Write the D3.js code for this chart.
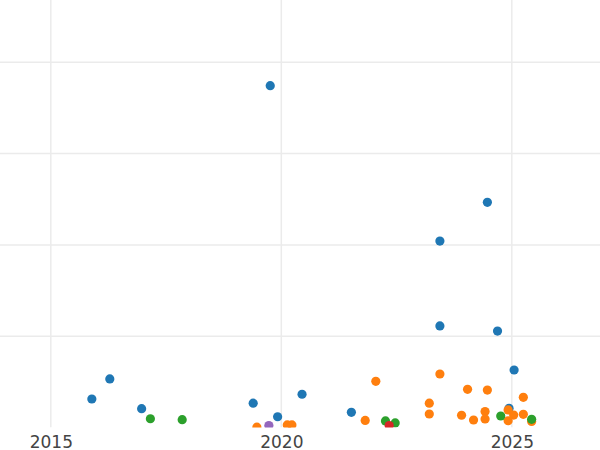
<!DOCTYPE html>
<html>
<head>
<meta charset="utf-8">
<script src="https://cdn.jsdelivr.net/npm/d3@7"></script>
<style>
  html, body { margin: 0; padding: 0; background: #fff; }
  svg { display: block; }
</style>
</head>
<body>
<svg id="chart" width="600" height="450"></svg>
<script>
// ---- data (year, value) per series ----
const seriesNames = ["blue", "orange", "green", "red", "purple"];
const seriesColors = ["#1f77b4", "#ff7f0e", "#2ca02c", "#d62728", "#9467bd"];

const blueYears  = [2015.89, 2016.28, 2016.97, 2019.76, 2019.39, 2019.92, 2020.45, 2021.52, 2023.44, 2024.47, 2023.44, 2024.69, 2025.05, 2024.94];
const blueValues = [15.6, 26.6, 10.3, 187.2, 13.3, 5.9, 18.2, 8.3, 102.1, 123.3, 55.6, 52.8, 31.5, 10.5];

const orangeYears  = [2019.47, 2020.13, 2020.23, 2022.05, 2021.82, 2023.44, 2024.04, 2023.21, 2023.21, 2023.91, 2024.17, 2024.47, 2025.25, 2024.42, 2024.42, 2024.92, 2025.04, 2024.92, 2025.25, 2025.43];
const orangeValues = [0.2, 1.4, 1.4, 25.3, 3.9, 29.3, 20.9, 13.3, 7.4, 6.7, 4.1, 20.5, 16.5, 8.7, 4.7, 9.6, 6.8, 3.7, 7.2, 3.3];

const greenYears  = [2017.16, 2017.85, 2022.26, 2022.47, 2024.76, 2025.43];
const greenValues = [4.8, 4.3, 3.6, 2.5, 6.3, 4.5];

const redYears  = [2022.34];
const redValues = [1.1];

const purpleYears  = [2019.73];
const purpleValues = [1.1];

const xTickValues = [2015, 2020, 2025];
const xTickLabels = ["2015", "2020", "2025"];
const yGridValues = [50, 100, 150, 200];

// ---- layout ----
const W = 600, H = 450;
const plotBottom = 427.5;
const x = d3.scaleLinear().domain([2013.898, 2026.913]).range([0, W]);
const y = d3.scaleLinear().domain([0, 234.1]).range([plotBottom, 0]);

const svg = d3.select("#chart");

svg.append("defs").append("clipPath").attr("id", "plotclip")
  .append("rect").attr("x", 0).attr("y", 0).attr("width", W).attr("height", plotBottom);

const grid = svg.append("g").attr("clip-path", "url(#plotclip)");
grid.selectAll("line.h").data(yGridValues).join("line")
  .attr("class", "h")
  .attr("x1", 0).attr("x2", W)
  .attr("y1", d => y(d)).attr("y2", d => y(d))
  .attr("stroke", "#ebebeb").attr("stroke-width", 1.5);
grid.selectAll("line.v").data(xTickValues).join("line")
  .attr("class", "v")
  .attr("x1", d => x(d)).attr("x2", d => x(d))
  .attr("y1", 0).attr("y2", plotBottom)
  .attr("stroke", "#ebebeb").attr("stroke-width", 1.5);

// x axis labels via d3 axis
const xAxis = d3.axisBottom(x).tickValues(xTickValues)
  .tickFormat((d, i) => xTickLabels[i]).tickSize(0).tickPadding(0);
const gx = svg.append("g").attr("transform", `translate(0,${plotBottom})`).call(xAxis);
gx.select(".domain").remove();
gx.selectAll("text")
  .attr("dy", null)
  .attr("y", 20)
  .attr("font-family", "DejaVu Sans, sans-serif")
  .attr("font-size", 17)
  .attr("fill", "#444");

// points
const series = [
  [blueYears, blueValues],
  [orangeYears, orangeValues],
  [greenYears, greenValues],
  [redYears, redValues],
  [purpleYears, purpleValues]
];
const pts = svg.append("g").attr("clip-path", "url(#plotclip)");
series.forEach(([xs, vs], si) => {
  const data = xs.map((v, i) => ({ x: v, y: vs[i] }));
  pts.append("g").attr("class", seriesNames[si])
    .selectAll("circle").data(data).join("circle")
    .attr("cx", d => x(d.x))
    .attr("cy", d => y(d.y))
    .attr("r", 4.6)
    .attr("fill", seriesColors[si]);
});
</script>
</body>
</html>
